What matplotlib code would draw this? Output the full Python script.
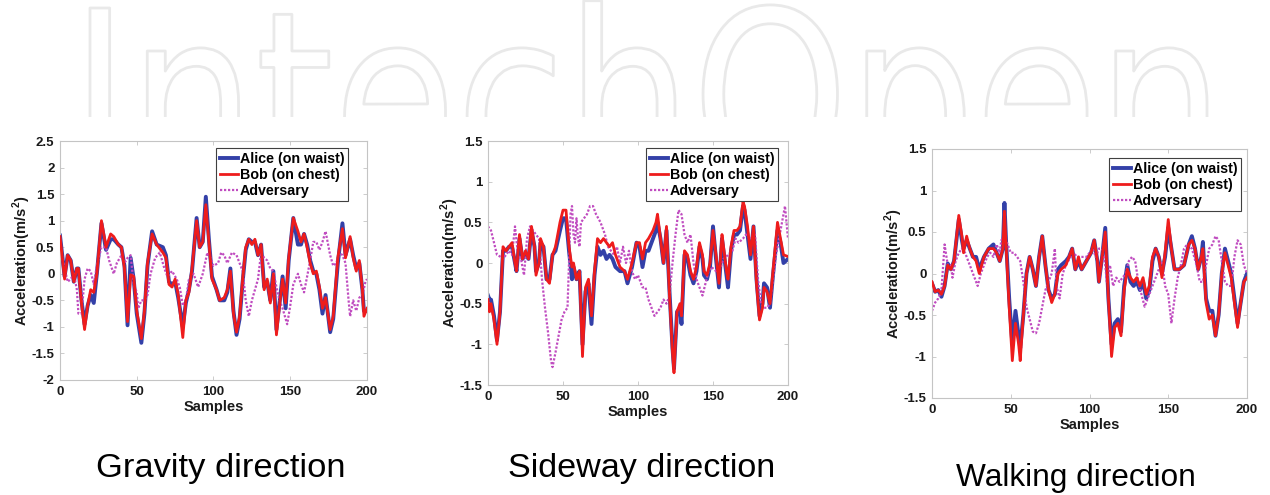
import matplotlib
matplotlib.use('Agg')
import matplotlib.pyplot as plt
from matplotlib.ticker import FormatStrFormatter
from matplotlib.patheffects import AbstractPathEffect
from matplotlib.transforms import Affine2D, IdentityTransform, Bbox
from matplotlib.textpath import TextPath
from matplotlib.font_manager import FontProperties

# ---------------- data ----------------
x_ticks = [0, 50, 100, 150, 200]
panel_titles = ['Gravity direction', 'Sideway direction', 'Walking direction']
legend_labels = ['Alice (on waist)', 'Bob (on chest)', 'Adversary']

# Gravity direction
g_x = [0,3,5,7,9,11,12,14,16,18,20,22,24,27,30,33,35,38,40,42,44,46,48,50,53,55,57,60,63,67,
       69,71,73,75,77,80,82,84,86,89,91,93,95,97,99,102,104,107,109,111,113,115,117,119,121,123,125,127,129,131,
       133,135,137,139,141,143,145,147,149,152,155,157,159,161,163,165,167,169,171,173,176,178,181,184,186,189,191,193,195,197,
       198,200]
g_bob = [0.7,-0.1,0.35,0.25,-0.15,0.1,0.1,-0.55,-1.05,-0.6, -0.3,-0.35,0.0,1.0,0.5,0.75,0.7,0.55,0.5,0.1,
         -0.9,-0.02,-0.05,-0.7,-1.22,-0.7,0.2,0.75,0.55,0.4, 0.3,-0.2,-0.25,-0.1,-0.4,-1.2,-0.5,-0.35,0.1,1.0,
         0.5,0.6,1.3,0.6,-0.1,-0.3,-0.5,-0.45,-0.3,0.05, -0.75,-1.1,-0.8,-0.1,0.5,0.65,0.55,0.65,0.35,0.55,
         -0.3,-0.1,-0.55,0.0,-1.15,-0.6,-0.1,-0.55,0.3,1.05, 0.8,0.6,0.75,0.5,0.2,0.0,0.05,-0.25,-0.65,-0.45,
         -1.05,-0.8,0.3,0.85,0.3,0.7,0.3,0.05,0.25,-0.3, -0.8,-0.65]
g_alice = [0.72,-0.05,0.35,0.25,-0.15,0.1,0.1,-0.5,-0.95,-0.6, -0.4,-0.55,0.0,0.95,0.45,0.65,0.65,0.55,0.5,0.15,
           -0.97,0.3,-0.1,-0.75,-1.3,-0.75,0.15,0.8,0.55,0.5, 0.35,-0.15,-0.2,-0.15,-0.45,-1.0,-0.55,-0.3,0.05,1.05,
           0.5,0.6,1.45,0.65,-0.05,-0.3,-0.5,-0.5,-0.35,0.1, -0.7,-1.15,-0.85,-0.15,0.45,0.65,0.6,0.6,0.35,0.55,
           -0.25,-0.15,-0.5,0.05,-1.05,-0.55,-0.05,-0.65,0.25,1.05, 0.55,0.55,0.75,0.55,0.25,0.05,0.0,-0.3,-0.75,-0.4,
           -1.1,-0.85,0.2,0.95,0.35,0.65,0.35,0.1,0.2,-0.3, -0.7,-0.7]
g_adv_x = [0,3,5,7,9,11,12,14,16,18,20,22,24,27,30,32,35,37,40,42,44,46,48,50,51,53,55,57,59,62,
           65,68,70,73,76,78,80,82,84,87,90,93,96,98,100,103,105,107,109,112,115,117,119,121,123,125,127,129,131,133,
           135,137,139,141,143,145,148,150,152,155,157,159,161,163,165,167,169,171,173,176,178,180,182,184,186,188,189,191,193,195,
           197,199,200]
g_adv = [0.5,0.1,-0.15,-0.1,0.0,-0.3,-0.75,-0.75,-0.1,0.1, 0.05,-0.2,0.15,0.5,0.5,0.25,0.0,0.2,0.35,0.2,
         0.3,0.35,-0.2,-0.35,-0.65,-0.5,-0.5,-0.4,0.0,0.3, 0.4,0.1,-0.05,0.05,-0.1,-0.25,-0.6,-0.5,-0.1,0.0,
         -0.25,0.0,0.4,0.3,0.15,0.2,0.4,0.35,0.2,0.4, 0.35,0.2,0.05,-0.5,-0.8,-0.5,-0.3,-0.1,0.4,0.3,
         0.25,0.1,0.05,-0.25,-0.5,-0.65,-0.95,-0.6,-0.2,0.0, -0.2,-0.35,-0.05,0.25,0.6,0.6,0.45,0.6,0.8,0.35,
         0.15,0.2,0.4,0.35,0.2,-0.5,-0.8,-0.5,-0.7,-0.45, -0.4,-0.15,-0.1]

# Sideway direction
s_x = [0,1,2,4,6,8,10,12,14,16,18,19,21,23,25,27,29,31,32,34,35,37,39,41,43,45,48,50,52,54,
       56,57,59,61,63,65,67,69,71,73,75,77,79,81,83,85,88,91,93,96,99,101,103,105,107,110,112,113,115,117,
       119,121,123,124,126,128,129,131,133,135,137,139,141,143,144,146,148,150,152,154,156,157,159,160,162,164,166,168,170,171,
       173,175,177,179,181,183,184,186,188,190,193,195,197,200]
s_bob = [-0.45,-0.6,-0.5,-0.7,-1.0,-0.6,0.2,0.15,0.2,0.25, 0.0,-0.1,0.35,0.05,0.15,0.05,0.45,0.2,-0.15,0.0,
         0.3,0.2,-0.2,-0.25,0.1,0.2,0.5,0.65,0.65,0.2, -0.05,0.0,-0.2,-0.1,-1.15,-0.3,-0.2,-0.65,-0.1,0.3,
         0.25,0.3,0.25,0.2,0.25,0.1,-0.05,-0.1,-0.2,0.0, 0.25,0.25,0.05,0.25,0.3,0.4,0.5,0.6,0.3,0.0,
         0.45,-0.4,-1.1,-1.35,-0.6,-0.5,-0.65,0.15,0.1,-0.1, -0.2,-0.05,0.25,0.1,-0.1,-0.15,0.0,0.4,0.1,-0.25,
         0.35,0.2,-0.1,-0.2,0.2,0.4,0.4,0.45,0.75,0.7, 0.45,0.1,0.45,-0.25,-0.7,-0.55,-0.3,-0.35,-0.5,-0.1,
         0.5,0.3,0.1,0.08]
s_alice = [-0.4,-0.45,-0.45,-0.65,-0.95,-0.6,0.15,0.15,0.2,0.2, 0.0,-0.1,0.3,0.05,0.1,0.05,0.4,0.2,-0.1,0.0,
           0.25,0.2,-0.2,-0.2,0.1,0.15,0.4,0.55,0.55,0.15, -0.2,-0.05,-0.2,-0.1,-1.0,-0.35,-0.25,-0.75,-0.15,0.2,
           0.1,0.15,0.05,0.1,0.05,-0.05,-0.1,-0.1,-0.25,-0.05, 0.25,0.2,-0.05,0.15,0.15,0.3,0.4,0.5,0.3,0.0,
           0.4,-0.35,-1.05,-1.3,-0.6,-0.55,-0.75,0.1,0.05,-0.15, -0.25,-0.1,0.2,0.05,-0.15,-0.2,-0.05,0.45,0.05,-0.3,
           0.3,0.15,-0.15,-0.3,0.15,0.35,0.35,0.4,0.7,0.65, 0.35,0.05,0.45,-0.2,-0.65,-0.5,-0.25,-0.3,-0.55,-0.15,
           0.4,0.25,0.0,0.05]
s_adv_x = [0,2,4,6,8,10,12,14,16,18,20,22,24,26,28,30,32,34,36,38,40,42,43,45,47,49,51,53,54,55,
           56,57,58,59,60,61,62,64,66,68,70,72,75,78,80,82,84,86,88,90,92,94,96,98,100,103,105,107,109,111,
           113,115,117,119,121,123,125,127,129,131,133,135,137,139,141,143,145,147,149,152,155,157,160,163,165,167,170,172,175,178,
           180,182,184,186,188,190,192,194,196,198,199,200]
s_adv = [0.45,0.4,0.25,0.1,0.08,0.05,0.1,0.15,0.1,0.45, 0.1,0.05,-0.15,0.3,0.45,0.4,0.35,0.3,-0.2,-0.55,
         -0.85,-1.2,-1.28,-1.1,-0.9,-0.7,-0.6,-0.55,0.0,0.6, 0.7,0.35,0.25,0.55,0.3,0.2,0.5,0.55,0.6,0.7,
         0.7,0.6,0.5,0.35,0.2,0.15,0.1,0.2,0.0,0.2, 0.0,0.15,-0.1,-0.2,-0.15,-0.3,-0.3,-0.45,-0.55,-0.65,
         -0.6,-0.55,-0.45,-0.5,-0.4,0.0,0.35,0.65,0.6,0.35, 0.25,0.35,0.0,-0.2,-0.3,-0.4,-0.25,-0.1,-0.05,-0.1,
         -0.05,0.05,0.1,0.15,0.3,0.25,0.3,0.35,0.3,0.35, -0.2,-0.5,-0.55,-0.55,-0.5,-0.2,0.1,0.3,0.5,0.7,
         0.5,0.3]

# Walking direction
w_x = [0,2,4,6,8,10,12,14,17,19,20,22,24,26,28,30,33,36,39,41,43,45,46,47,49,51,53,55,56,58,
       60,62,64,66,68,70,72,74,76,78,80,82,85,87,89,91,93,95,98,101,103,105,106,108,110,112,114,116,118,120,
       122,124,126,128,130,132,134,136,138,140,142,144,146,148,150,152,154,157,160,163,165,167,169,171,172,174,176,178,180,182,
       184,186,188,190,192,194,196,198,200]
w_bob = [-0.1,-0.22,-0.2,-0.25,-0.15,0.1,0.05,0.15,0.7,0.45, 0.25,0.45,0.3,0.2,0.15,0.0,0.2,0.3,0.3,0.25,
         0.15,0.3,0.75,0.35,-0.4,-1.05,-0.6,-0.85,-1.05,-0.5, 0.0,0.2,0.05,-0.15,0.2,0.45,0.1,-0.2,-0.35,-0.25,
         0.0,0.05,0.1,0.2,0.3,0.05,0.2,0.05,0.15,0.25, 0.4,0.15,-0.1,0.2,0.5,-0.3,-1.0,-0.65,-0.6,-0.75,
         -0.2,0.05,-0.05,-0.1,-0.05,-0.15,-0.05,-0.25,-0.15,0.2, 0.3,0.2,-0.05,0.25,0.65,0.3,0.05,0.05,0.1,0.35,
         0.4,0.3,0.05,0.2,0.3,-0.35,-0.55,-0.5,-0.75,-0.5, 0.0,0.25,0.1,-0.05,-0.35,-0.65,-0.35,-0.1,-0.05]
w_alice = [-0.12,-0.22,-0.2,-0.28,-0.15,0.12,0.05,0.15,0.65,0.4, 0.3,0.4,0.3,0.2,0.2,0.05,0.2,0.3,0.35,0.25,
           0.15,0.3,0.85,0.4,-0.3,-0.85,-0.45,-0.75,-0.9,-0.5, 0.0,0.2,0.05,-0.15,0.2,0.45,0.1,-0.2,-0.3,-0.25,
           0.05,0.1,0.15,0.2,0.3,0.05,0.15,0.05,0.15,0.25, 0.4,0.15,-0.1,0.2,0.55,-0.3,-0.85,-0.6,-0.55,-0.7,
           -0.15,0.1,-0.1,-0.15,-0.1,-0.2,-0.1,-0.3,-0.2,0.15, 0.3,0.2,0.0,0.2,0.55,0.3,0.05,0.05,0.1,0.35,
           0.45,0.3,0.05,0.2,0.38,-0.3,-0.45,-0.45,-0.75,-0.5, 0.0,0.3,0.15,0.0,-0.3,-0.6,-0.35,-0.1,0.0]
w_adv_x = [0,2,4,6,8,10,12,13,15,17,19,21,23,25,27,29,31,33,35,37,39,41,43,44,46,48,50,52,54,56,
           58,60,62,64,66,68,70,72,74,76,78,79,81,83,85,88,90,92,95,98,100,102,104,106,108,110,111,113,115,117,
           119,121,123,125,127,129,131,133,135,137,139,141,143,146,148,150,152,154,156,158,160,162,165,168,170,172,174,176,178,180,
           182,184,186,188,190,192,194,196,198,200]
w_adv = [-0.45,-0.35,-0.3,-0.2,0.35,0.1,0.1,-0.05,0.15,0.25, 0.3,0.25,0.15,0.05,-0.05,-0.15,0.0,0.1,0.2,0.25,
         0.2,0.35,0.25,0.4,0.45,0.35,0.25,0.25,0.2,0.15, -0.1,-0.4,-0.55,-0.7,-0.72,-0.6,-0.4,-0.2,-0.1,0.0,
         0.3,-0.15,-0.3,0.0,0.1,0.2,0.25,0.2,0.2,0.2, 0.25,0.3,0.2,0.3,0.3,0.1,-0.1,0.1,-0.15,-0.05,
         -0.1,-0.05,0.0,0.15,0.2,0.15,-0.1,-0.25,-0.4,-0.3, -0.2,-0.1,0.0,0.15,-0.15,-0.25,-0.6,-0.3,-0.05,0.1,
         0.3,0.35,0.3,0.1,-0.1,-0.1,0.1,0.3,0.35,0.45, 0.4,0.15,-0.1,-0.15,-0.15,0.2,0.4,0.35,0.1,0.0]

g_yticks = [-2, -1.5, -1, -0.5, 0, 0.5, 1, 1.5, 2, 2.5]
s_yticks = [-1.5, -1, -0.5, 0, 0.5, 1, 1.5]
w_yticks = [-1.5, -1, -0.5, 0, 0.5, 1, 1.5]

# ---------------- style ----------------
plt.rcParams['font.family'] = ['Liberation Sans', 'DejaVu Sans']
plt.rcParams['axes.unicode_minus'] = False
plt.rcParams['mathtext.fontset'] = 'custom'
plt.rcParams['mathtext.rm'] = 'Liberation Sans'
plt.rcParams['mathtext.bf'] = 'Liberation Sans:bold'

W, H = 1270, 495
fig = plt.figure(figsize=(W / 100, H / 100), dpi=100)


class Stretch(AbstractPathEffect):
    """Draw text as an outline, moved from (tx, ty) to (X0, Y0) and stretched."""
    def __init__(self, tx, ty, X0, Y0, sx, sy, edge, lw):
        super().__init__()
        self.tx, self.ty, self.X0, self.Y0 = tx, ty, X0, Y0
        self.sx, self.sy = sx, sy
        self.edge, self.lw = edge, lw

    def draw_path(self, renderer, gc, tpath, affine, rgbFace=None):
        t = affine + Affine2D().translate(-self.tx, -self.ty).scale(self.sx, self.sy).translate(self.X0, self.Y0)
        gc0 = renderer.new_gc()
        gc0.copy_properties(gc)
        gc0.set_clip_rectangle(Bbox([[0, H - 117], [W, H]]))
        gc0.set_foreground(self.edge)
        gc0.set_linewidth(self.lw)
        renderer.draw_path(gc0, tpath, t, (1, 1, 1, 1))
        gc0.restore()


# watermark (light outlined text, cut off at the bottom)
wm_text = 'IntechOpen'
fp = FontProperties(family='DejaVu Sans')
fs_px = 40  # nominal size of the text artist in pixels (fontsize in pt = px * 0.72)
bb = TextPath((0, 0), wm_text, size=fs_px, prop=fp).get_extents()
capH = TextPath((0, 0), 'I', size=fs_px, prop=fp).get_extents().height
sx = (1207 - 90) / bb.width
sy = 172 / capH
tx, ty = 300, H - 70          # nominal placement (within the top band)
X0 = 90 - bb.x0 * sx
Y0 = H - 180
wm = fig.text(tx, ty, wm_text, transform=IdentityTransform(), fontsize=fs_px * 0.72,
              family='DejaVu Sans', ha='left', va='baseline', color='white', zorder=0)
wm.set_path_effects([Stretch(tx, ty, X0, Y0, sx, sy, '#e9e9e9', 2.0)])

axes_px = [(60, 141, 367, 380), (488, 141, 788, 385), (932, 149, 1247, 398)]
legend_anchor = [(348, 148), (778, 148), (1241, 158)]
data = [
    (g_x, g_alice, g_bob, g_adv_x, g_adv, (-2, 2.5), g_yticks),
    (s_x, s_alice, s_bob, s_adv_x, s_adv, (-1.5, 1.5), s_yticks),
    (w_x, w_alice, w_bob, w_adv_x, w_adv, (-1.5, 1.5), w_yticks),
]
title_pos = [(221, 468, 24.8), (642, 468, 24.6), (1076, 478, 22.8)]

for (l, t, r, b), (lx, ly), (x, al, bo, xa, ad, ylim, yt), title, (tpx, tpy, tfs) in zip(
        axes_px, legend_anchor, data, panel_titles, title_pos):
    ax = fig.add_axes([l / W, (H - b) / H, (r - l) / W, (b - t) / H])
    h1, = ax.plot(x, al, color='#3340a8', lw=2.8, label=legend_labels[0], zorder=2)
    h2, = ax.plot(x, bo, color='#ee1c1c', lw=2.0, label=legend_labels[1], zorder=3)
    h3, = ax.plot(xa, ad, color='#c04cc0', lw=1.6, ls=(0, (1.0, 0.8)), label=legend_labels[2], zorder=2.5)
    ax.set_xlim(0, 200)
    ax.set_ylim(*ylim)
    ax.set_xticks(x_ticks)
    ax.set_yticks(yt)
    ax.yaxis.set_major_formatter(FormatStrFormatter('%g'))
    for s in ax.spines.values():
        s.set_color('#c4c4c4')
        s.set_linewidth(0.8)
    ax.tick_params(direction='in', length=3, width=0.6, color='#c4c4c4', top=True, right=True,
                   labelsize=9.5, labelcolor='#1a1a1a')
    ax.tick_params(axis='x', pad=4.5)
    ax.tick_params(axis='y', pad=4)
    for lb in ax.get_xticklabels() + ax.get_yticklabels():
        lb.set_fontweight('bold')
    ax.set_xlabel('Samples', fontweight='bold', fontsize=10.5, labelpad=1.5, color='#1a1a1a')
    ax.set_ylabel(r'Acceleration(m/s$^{\mathbf{2}}$)', fontweight='bold', fontsize=10.5, labelpad=-1,
                  color='#1a1a1a')
    leg = ax.legend(handles=[h1, h2, h3], loc='upper right', bbox_to_anchor=(lx, H - ly),
                    bbox_transform=IdentityTransform(), prop={'weight': 'bold', 'size': 10.3},
                    frameon=True, fancybox=False, edgecolor='#404040', framealpha=1,
                    handlelength=1.3, handletextpad=0.1, labelspacing=0.15, borderpad=0.25,
                    borderaxespad=0)
    leg.get_frame().set_linewidth(0.8)
    fig.text(tpx / W, 1 - tpy / H, title, ha='center', va='center', fontsize=tfs, color='black')

fig.savefig('out.png', dpi=100)
